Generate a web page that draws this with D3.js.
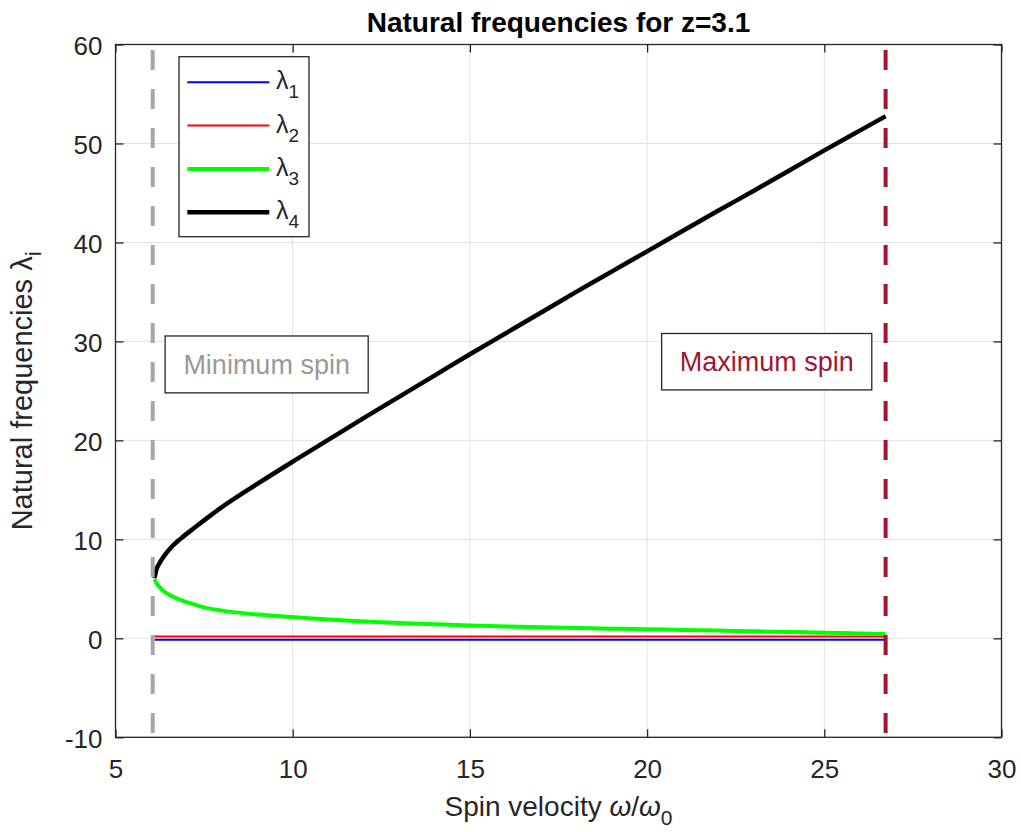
<!DOCTYPE html>
<html>
<head>
<meta charset="utf-8">
<script src="https://cdn.jsdelivr.net/npm/d3@7"></script>
<style>
  body { margin: 0; background: #fff; }
  svg { font-family: "Liberation Sans", Arial, Helvetica, sans-serif; }
</style>
</head>
<body>
<div id="vis"></div>
<script>
// Datos
const omega = [6.1, 6.15, 6.25, 6.4, 6.6, 6.85, 7.2, 7.6, 8, 9, 10, 11, 12, 13, 14, 15, 16, 17, 18, 19, 20, 21, 22, 23, 24, 25, 26, 26.73];
const lambda1 = omega.map(() => -0.15);
const lambda2 = omega.map(() => 0.18);
const lambda3 = [6.0, 5.6, 5.15, 4.65, 4.25, 3.85, 3.45, 3.05, 2.8, 2.4, 2.15, 1.9, 1.7, 1.55, 1.42, 1.3, 1.2, 1.12, 1.05, 0.98, 0.92, 0.85, 0.78, 0.71, 0.64, 0.57, 0.5, 0.45];
const lambda4 = [6.1, 6.9, 7.65, 8.45, 9.3, 10.1, 11.1, 12.2, 13.25, 15.6, 17.85, 20.05, 22.25, 24.4, 26.55, 28.7, 30.8, 32.9, 35.0, 37.05, 39.1, 41.15, 43.2, 45.2, 47.25, 49.3, 51.3, 52.75];

const seriesNames = ["1", "2", "3", "4"];
const seriesColors = ["#0000ff", "#ff0000", "#00ff00", "#000000"];
const seriesWidths = [2, 2, 4, 4.5];

const xTicks = [5, 10, 15, 20, 25, 30];
const yTicks = [-10, 0, 10, 20, 30, 40, 50, 60];

const minSpin = 6.05;
const maxSpin = 26.73;

// Constantes
const WIDTH = 1021;
const HEIGHT = 832;
const axisColor = "#262626";

const svg = d3.select("#vis")
  .append("svg")
  .attr("width", WIDTH)
  .attr("height", HEIGHT);

// Escalas
const x = d3.scaleLinear().domain([5, 30]).range([115.5, 1001.5]);
const y = d3.scaleLinear().domain([-10, 60]).range([737.3, 44.5]);

const pLeft = x.range()[0], pRight = x.range()[1];
const pTop = y.range()[1], pBottom = y.range()[0];

// Grilla
const grid = svg.append("g");
grid.selectAll(".gx")
  .data(xTicks)
  .join("line")
  .attr("class", "gx")
  .attr("x1", d => x(d)).attr("x2", d => x(d))
  .attr("y1", pTop).attr("y2", pBottom)
  .attr("stroke", "#e2e2e2").attr("stroke-width", 1);
grid.selectAll(".gy")
  .data(yTicks)
  .join("line")
  .attr("class", "gy")
  .attr("x1", pLeft).attr("x2", pRight)
  .attr("y1", d => y(d)).attr("y2", d => y(d))
  .attr("stroke", "#e2e2e2").attr("stroke-width", 1);

// Curvas
const series = [lambda1, lambda2, lambda3, lambda4];
const line = d3.line()
  .x((d, i) => x(omega[i]))
  .y(d => y(d))
  .curve(d3.curveMonotoneX);

svg.append("g")
  .selectAll("path")
  .data(series)
  .join("path")
  .attr("d", d => line(d))
  .attr("fill", "none")
  .attr("stroke", (d, i) => seriesColors[i])
  .attr("stroke-width", (d, i) => seriesWidths[i])
  .attr("stroke-linejoin", "round");

// Líneas verticales punteadas
svg.append("g")
  .selectAll("line")
  .data([[minSpin, "#a6a6a6"], [maxSpin, "#a2142f"]])
  .join("line")
  .attr("x1", d => x(d[0])).attr("x2", d => x(d[0]))
  .attr("y1", pTop).attr("y2", pBottom)
  .attr("stroke", d => d[1])
  .attr("stroke-width", 4)
  .attr("stroke-dasharray", "20,19")
  .attr("stroke-dashoffset", 33.5);

// Cajas de texto
const notes = [
  { text: "Minimum spin", x0: 6.40, x1: 12.13, y0: 30.55, y1: 24.8, color: "#999999" },
  { text: "Maximum spin", x0: 20.41, x1: 26.34, y0: 30.8, y1: 25.1, color: "#a2142f" }
];
const noteG = svg.append("g")
  .selectAll("g")
  .data(notes)
  .join("g");
noteG.append("rect")
  .attr("x", d => x(d.x0))
  .attr("y", d => y(d.y0))
  .attr("width", d => x(d.x1) - x(d.x0))
  .attr("height", d => y(d.y1) - y(d.y0))
  .attr("fill", "#fff")
  .attr("stroke", axisColor)
  .attr("stroke-width", 1.3);
noteG.append("text")
  .attr("x", d => (x(d.x0) + x(d.x1)) / 2)
  .attr("y", d => (y(d.y0) + y(d.y1)) / 2 + 9.5)
  .attr("text-anchor", "middle")
  .attr("font-size", 27)
  .attr("fill", d => d.color)
  .text(d => d.text);

// Ejes
const fmt = d => String(d);
const xAxis = svg.append("g")
  .attr("transform", `translate(0, ${pBottom})`)
  .call(d3.axisBottom(x).tickValues(xTicks).tickFormat(fmt).tickSizeInner(-8).tickSizeOuter(0).tickPadding(22));
const yAxis = svg.append("g")
  .attr("transform", `translate(${pLeft}, 0)`)
  .call(d3.axisLeft(y).tickValues(yTicks).tickFormat(fmt).tickSizeInner(-8).tickSizeOuter(0).tickPadding(13));
const xTop = svg.append("g")
  .attr("transform", `translate(0, ${pTop})`)
  .call(d3.axisTop(x).tickValues(xTicks).tickSizeInner(-8).tickSizeOuter(0).tickFormat(""));
const yRight = svg.append("g")
  .attr("transform", `translate(${pRight}, 0)`)
  .call(d3.axisRight(y).tickValues(yTicks).tickSizeInner(-8).tickSizeOuter(0).tickFormat(""));

[xAxis, yAxis, xTop, yRight].forEach(a => {
  a.select(".domain").remove();
  a.selectAll("line").attr("stroke", axisColor).attr("stroke-width", 1.3);
  a.selectAll("text")
    .attr("fill", axisColor)
    .attr("font-size", 26)
    .attr("font-family", "'Liberation Sans', Arial, sans-serif");
});
yAxis.selectAll("text").attr("dy", "0.38em");

svg.append("rect")
  .attr("x", pLeft).attr("y", pTop)
  .attr("width", pRight - pLeft).attr("height", pBottom - pTop)
  .attr("fill", "none")
  .attr("stroke", axisColor)
  .attr("stroke-width", 1.3);

// Leyenda
const legend = svg.append("g");
legend.append("rect")
  .attr("x", 179).attr("y", 56.7)
  .attr("width", 130).attr("height", 180)
  .attr("fill", "#fff")
  .attr("stroke", axisColor)
  .attr("stroke-width", 1.3);
const item = legend.selectAll(".item")
  .data(seriesNames)
  .join("g")
  .attr("class", "item")
  .attr("transform", (d, i) => `translate(0, ${82.3 + i * 43.3})`);
item.append("line")
  .attr("x1", 187.3).attr("x2", 269.3)
  .attr("stroke", (d, i) => seriesColors[i])
  .attr("stroke-width", (d, i) => seriesWidths[i]);
const itemText = item.append("text")
  .attr("x", 276)
  .attr("y", 7)
  .attr("font-size", 25)
  .attr("fill", axisColor);
itemText.append("tspan").text("λ");
itemText.append("tspan").attr("dy", 9).attr("font-size", 19).text(d => d);

// Títulos
svg.append("text")
  .attr("x", (pLeft + pRight) / 2)
  .attr("y", 32)
  .attr("text-anchor", "middle")
  .attr("font-size", 28)
  .attr("font-weight", "bold")
  .attr("fill", "#000")
  .text("Natural frequencies for z=3.1");

const xLabel = svg.append("text")
  .attr("x", (pLeft + pRight) / 2)
  .attr("y", 816)
  .attr("text-anchor", "middle")
  .attr("font-size", 28)
  .attr("fill", axisColor);
xLabel.append("tspan").text("Spin velocity ");
xLabel.append("tspan").attr("font-style", "italic").text("ω");
xLabel.append("tspan").text("/");
xLabel.append("tspan").attr("font-style", "italic").text("ω");
xLabel.append("tspan").attr("dy", 9).attr("font-size", 21).text("0");

const yLabel = svg.append("text")
  .attr("transform", `translate(32, ${(pTop + pBottom) / 2}) rotate(-90)`)
  .attr("text-anchor", "middle")
  .attr("font-size", 29)
  .attr("fill", axisColor);
yLabel.append("tspan").text("Natural frequencies ");
yLabel.append("tspan").text("λ");
yLabel.append("tspan").attr("dy", 9).attr("font-size", 22).text("i");
</script>
</body>
</html>
